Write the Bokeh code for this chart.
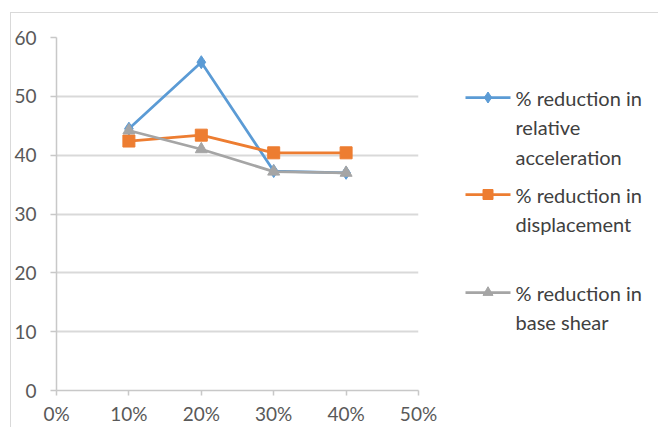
from bokeh.plotting import figure
from bokeh.layouts import row
from bokeh.models import FixedTicker, Range1d
from bokeh.embed import file_html
from bokeh.resources import INLINE

x_vals = [10, 20, 30, 40]
accel = [44.5, 55.8, 37.3, 37.0]
displ = [42.4, 43.4, 40.4, 40.4]
shear = [44.2, 41.0, 37.2, 37.0]
x_ticks = [0, 10, 20, 30, 40, 50]
x_tick_labels = ["0%", "10%", "20%", "30%", "40%", "50%"]
y_ticks = [0, 10, 20, 30, 40, 50, 60]
legend_lines = [["% reduction in", "relative", "acceleration"],
                ["% reduction in", "displacement"],
                ["% reduction in", "base shear"]]

FONT = "Lato"
TXT = "#595959"
H = 414
TOP = 24
BOTTOM = 37

p = figure(width=427, height=H, output_backend="svg", toolbar_location=None,
           x_range=(0, 50), y_range=(0, 60),
           min_border_left=45, min_border_right=20, min_border_top=TOP, min_border_bottom=BOTTOM)
p.outline_line_color = None
p.xgrid.visible = False
p.ygrid.grid_line_color = "#d9d9d9"
p.ygrid.grid_line_width = 1.8

for ax in (p.xaxis[0], p.yaxis[0]):
    ax.axis_line_color = "#c8c8c8"
    ax.axis_line_width = 1.5
    ax.major_tick_line_color = "#c8c8c8"
    ax.major_tick_line_width = 1.5
    ax.major_tick_in = 0
    ax.minor_tick_line_color = None
    ax.major_label_text_font = FONT
    ax.major_label_text_font_size = "19px"
    ax.major_label_text_color = TXT

p.xaxis.ticker = FixedTicker(ticks=x_ticks)
p.xaxis.major_label_overrides = {t: l for t, l in zip(x_ticks, x_tick_labels)}
p.xaxis.major_tick_out = 5
p.xaxis.major_label_standoff = 6
p.yaxis.ticker = FixedTicker(ticks=y_ticks)
p.yaxis.major_tick_out = 6
p.yaxis.major_label_standoff = 14

colors = ["#5b9bd5", "#ed7d31", "#a5a5a5"]
markers = ["diamond", "square", "triangle"]
sizes = [13, 12, 12]
data = [accel, displ, shear]

for i in range(3):
    p.line(x_vals, data[i], line_color=colors[i], line_width=2.75)
    p.scatter(x_vals, data[i], marker=markers[i], size=sizes[i],
              fill_color=colors[i], line_color=colors[i])

# legend panel (pixel coordinates of the panel, y downwards); the row aligns
# its frame with the chart frame, so map the frame span to panel pixels
lg = figure(width=220, height=H, output_backend="svg", toolbar_location=None,
            x_range=Range1d(0, 220), y_range=Range1d(H - BOTTOM, TOP),
            x_axis_type=None, y_axis_type=None,
            min_border_left=0, min_border_right=0, min_border_top=TOP, min_border_bottom=BOTTOM,
            outline_line_color=None)
lg.grid.visible = False

item_top = [84, 181, 279]   # first-line centre in panel pixels
line_gap = 29.5
for i in range(3):
    yc = item_top[i]
    lg.line([27, 72], [yc, yc], line_color=colors[i], line_width=2.75)
    lg.scatter([49.5], [yc], marker=markers[i], size=sizes[i] - 2,
               fill_color=colors[i], line_color=colors[i])
    ys = [yc + k * line_gap for k in range(len(legend_lines[i]))]
    xs = [77] * len(ys)
    lg.text(xs, ys, text=legend_lines[i], text_baseline="middle", text_align="left",
            text_font={"value": FONT}, text_font_size={"value": "20px"},
            text_color="#404040")

layout = row(p, lg, styles={"margin-left": "10px", "margin-top": "12px",
                            "border-left": "1px solid #d9d9d9",
                            "border-top": "1px solid #d9d9d9"})

open("out.html", "w").write(file_html(layout, INLINE))
